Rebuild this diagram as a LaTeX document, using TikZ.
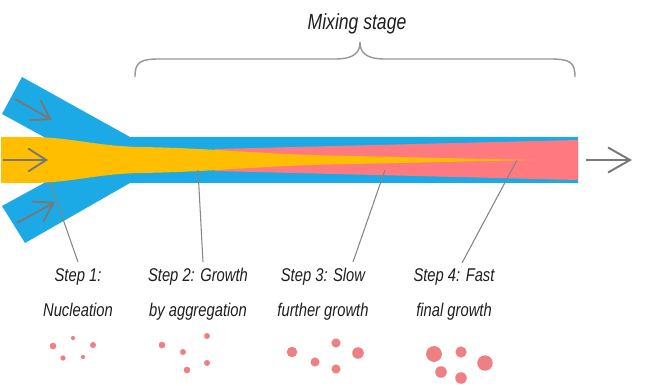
\documentclass[tikz,border=0pt]{standalone}
\usepackage{fontspec}
\newfontfamily\labelfont[FakeStretch=0.8]{Liberation Sans}
\usetikzlibrary{arrows.meta, calc}
\definecolor{chBlue}{RGB}{27,170,230}
\definecolor{chYellow}{RGB}{255,190,0}
\definecolor{chPink}{RGB}{255,122,128}
\definecolor{dotPink}{RGB}{238,128,132}
\definecolor{lnGrey}{RGB}{120,120,120}
\definecolor{brGrey}{RGB}{150,150,150}
\definecolor{txGrey}{RGB}{30,30,30}

\begin{document}
\begin{tikzpicture}[x=0.2mm, y=-0.2mm,
    steplabel/.style={font={\labelfont\itshape\fontsize{10.5}{19.8}\selectfont},
                      text=txGrey, align=center, anchor=north, inner sep=0pt},
    inarr/.style={-{Straight Barb[length=3.6mm, width=4.6mm]}, line width=1.1pt, draw=lnGrey},
    outarr/.style={-{Straight Barb[length=4.4mm, width=5mm]}, line width=1.1pt, draw=lnGrey},
    ptr/.style={draw=lnGrey!90, line width=0.6pt},
    particle/.style={fill=dotPink}]
\useasboundingbox (0,0) rectangle (650,386);

% CHANNEL
\fill[chBlue] (22,77) -- (130,137) -- (578,137) -- (578,183) -- (130,183)
   -- (25,243) -- (2,206) -- (44,183) -- (44,137) -- (2,114) -- cycle;
\fill[chPink] (215,149) -- (578,140) -- (578,180) -- (215,171) -- cycle;
\fill[chYellow] (1,137) -- (30,137) .. controls (70,137) and (95,146) .. (140,147)
   .. controls (210,148) and (260,154) .. (330,155.5)
   .. controls (400,157) and (460,158.5) .. (535,160)
   .. controls (460,161.5) and (400,163) .. (330,164.5)
   .. controls (260,166) and (210,172) .. (140,173)
   .. controls (95,174) and (70,183) .. (30,183) -- (1,183) -- cycle;

% Inlet and outlet arrows
\coordinate (in1a) at (15,99);  \coordinate (in1b) at (52,120);
\coordinate (in2a) at (3,160);  \coordinate (in2b) at (48,160);
\coordinate (in3a) at (17,223); \coordinate (in3b) at (55,202);
\coordinate (outa) at (586,160); \coordinate (outb) at (632,160);
\foreach \a/\b in {in1a/in1b, in2a/in2b, in3a/in3b}
   \draw[inarr] (\a) -- (\b);
\draw[outarr] (outa) -- (outb);

% Mixing stage brace
\node[font={\labelfont\itshape\fontsize{12.5}{14}\selectfont}, text=txGrey, anchor=base] (mix) at (357,30) {Mixing stage};
\draw[brGrey, line width=0.8pt] (135,77) .. controls (135,62) and (140,59) .. (160,59)
   -- (335,59) .. controls (355,59) and (360,52) .. (360,42)
   .. controls (360,52) and (365,59) .. (385,59) -- (550,59)
   .. controls (570,59) and (575,62) .. (575,77);

% STEP LABELS
\node[steplabel] (s1) at (78,268)  {Step 1:\\Nucleation};
\node[steplabel] (s2) at (198,268) {Step 2: Growth\\by aggregation};
\node[steplabel] (s3) at (323,268) {Step 3: Slow\\further growth};
\node[steplabel] (s4) at (454,268) {Step 4: Fast\\final growth};

% Pointer lines
\coordinate (p1) at (50,182);
\coordinate (p2) at (198,170);
\coordinate (p3) at (385,170);
\coordinate (p4) at (517,160);
\draw[ptr] (p1) -- ($(s1.north)+(0,-6)$);
\draw[ptr] (p2) -- ($(s2.north)+(5,-6)$);
\draw[ptr] (p3) -- ($(s3.north)+(30,-6)$);
\draw[ptr] (p4) -- ($(s4.north)+(8,-5)$);

% Particles
\foreach \x/\y/\r in {53/346/1.9, 73/338/1.2, 93/345/1.7, 63/358/1.5, 83/357/1.2,
                      162/345/1.9, 207/336/1.7, 183/352/1.7, 207/363/1.7, 187/370/1.9,
                      292/352/3.0, 336/343/2.6, 358/353/3.3, 315/362/2.6, 336/369/2.6,
                      434/354/4.5, 461/352/3.2, 485/363/4.4, 441/372/3.3, 461/378/3.3}
   \fill[particle] (\x,\y) circle[radius=\r pt];

\end{tikzpicture}
\end{document}
